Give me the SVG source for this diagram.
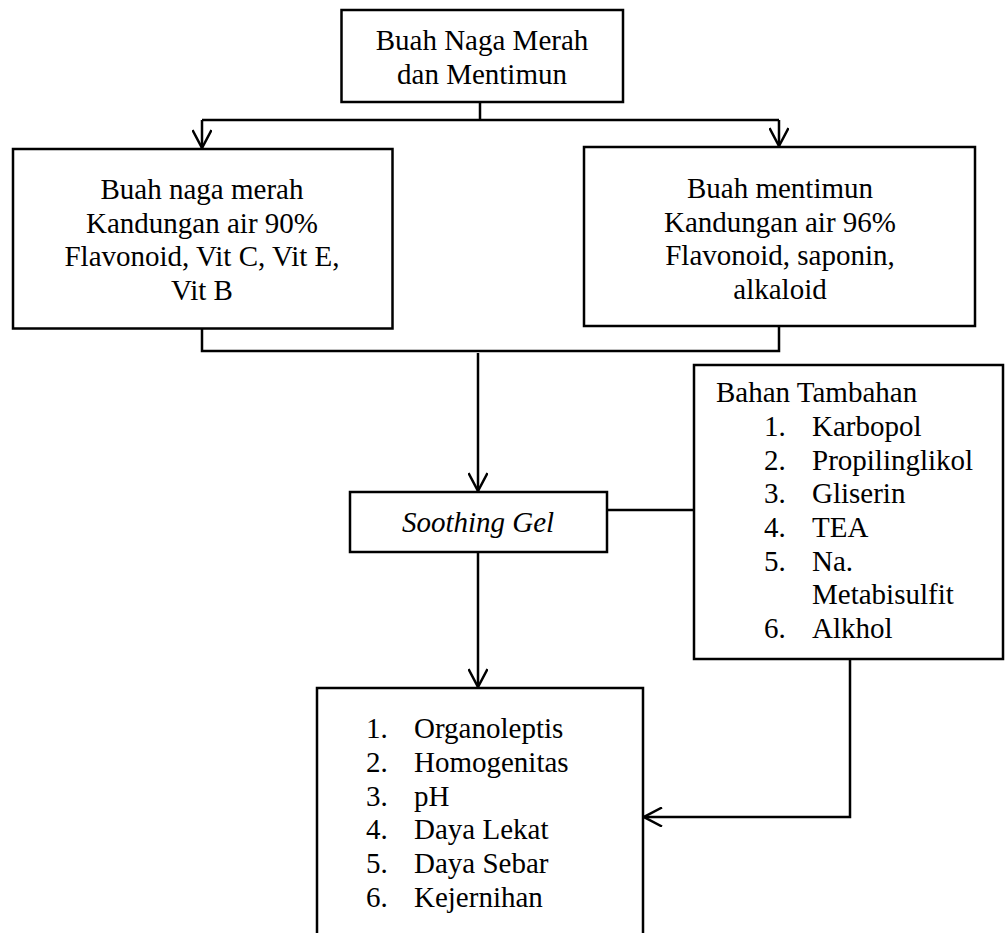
<svg xmlns="http://www.w3.org/2000/svg" width="1006" height="933" viewBox="0 0 1006 933">
<defs>
<marker id="arr" viewBox="0 0 20 20" refX="19" refY="10" markerWidth="20" markerHeight="20" markerUnits="userSpaceOnUse" orient="auto">
<path d="M1,0.5 L19,10 L1,19.5" fill="none" stroke="#000" stroke-width="2.5"/>
</marker>
</defs>
<style>
.box{fill:#fff;stroke:#000;stroke-width:2.5}
.ln{fill:none;stroke:#000;stroke-width:2.5}
text{font-family:"Liberation Serif","Times New Roman",serif;font-size:29px;fill:#000}
.c{text-anchor:middle}
.i{font-style:italic}
</style>
<rect width="1006" height="933" fill="#fff"/>
<g id="connectors">
<polyline class="ln" points="480,102 480,120"/>
<polyline class="ln" points="202,120 779,120"/>
<line class="ln" x1="202" y1="120" x2="202" y2="148" marker-end="url(#arr)"/>
<line class="ln" x1="779" y1="120" x2="779" y2="146" marker-end="url(#arr)"/>
<polyline class="ln" points="202,329 202,351 779,351 779,326"/>
<line class="ln" x1="478" y1="353" x2="478" y2="491" marker-end="url(#arr)"/>
<line class="ln" x1="607" y1="510" x2="694" y2="510"/>
<line class="ln" x1="478" y1="552" x2="478" y2="687" marker-end="url(#arr)"/>
<polyline class="ln" points="850,659 850,817 644,817" marker-end="url(#arr)"/>
</g>
<g id="top">
<rect class="box" x="341.5" y="10" width="281.5" height="92"/>
<text class="c" x="482" y="50">Buah Naga Merah</text>
<text class="c" x="482" y="84">dan Mentimun</text>
</g>
<g id="naga">
<rect class="box" x="13" y="149" width="379.5" height="179.5"/>
<text class="c" x="202" y="199">Buah naga merah</text>
<text class="c" x="202" y="232.5">Kandungan air 90%</text>
<text class="c" x="202" y="266">Flavonoid, Vit C, Vit E,</text>
<text class="c" x="202" y="299.5">Vit B</text>
</g>
<g id="mentimun">
<rect class="box" x="584" y="147" width="391" height="179"/>
<text class="c" x="780" y="198">Buah mentimun</text>
<text class="c" x="780" y="231.5">Kandungan air 96%</text>
<text class="c" x="780" y="265">Flavonoid, saponin,</text>
<text class="c" x="780" y="298.5">alkaloid</text>
</g>
<g id="gel">
<rect class="box" x="350" y="492" width="257" height="60"/>
<text class="c i" x="478" y="532">Soothing Gel</text>
</g>
<g id="bahan">
<rect class="box" x="694" y="365" width="309" height="294"/>
<text x="716" y="402">Bahan Tambahan</text>
<text x="764" y="436">1.</text><text x="812" y="436">Karbopol</text>
<text x="764" y="469.5">2.</text><text x="812" y="469.5">Propilinglikol</text>
<text x="764" y="503">3.</text><text x="812" y="503">Gliserin</text>
<text x="764" y="537">4.</text><text x="812" y="537">TEA</text>
<text x="764" y="570.5">5.</text><text x="812" y="570.5">Na.</text>
<text x="812" y="604">Metabisulfit</text>
<text x="764" y="637.5">6.</text><text x="812" y="637.5">Alkhol</text>
</g>
<g id="uji">
<path class="ln" d="M317,940 L317,688 L643,688 L643,940"/>
<text x="366" y="738">1.</text><text x="414" y="738">Organoleptis</text>
<text x="366" y="772">2.</text><text x="414" y="772">Homogenitas</text>
<text x="366" y="805.5">3.</text><text x="414" y="805.5">pH</text>
<text x="366" y="839">4.</text><text x="414" y="839">Daya Lekat</text>
<text x="366" y="873">5.</text><text x="414" y="873">Daya Sebar</text>
<text x="366" y="907">6.</text><text x="414" y="907">Kejernihan</text>
</g>
</svg>
